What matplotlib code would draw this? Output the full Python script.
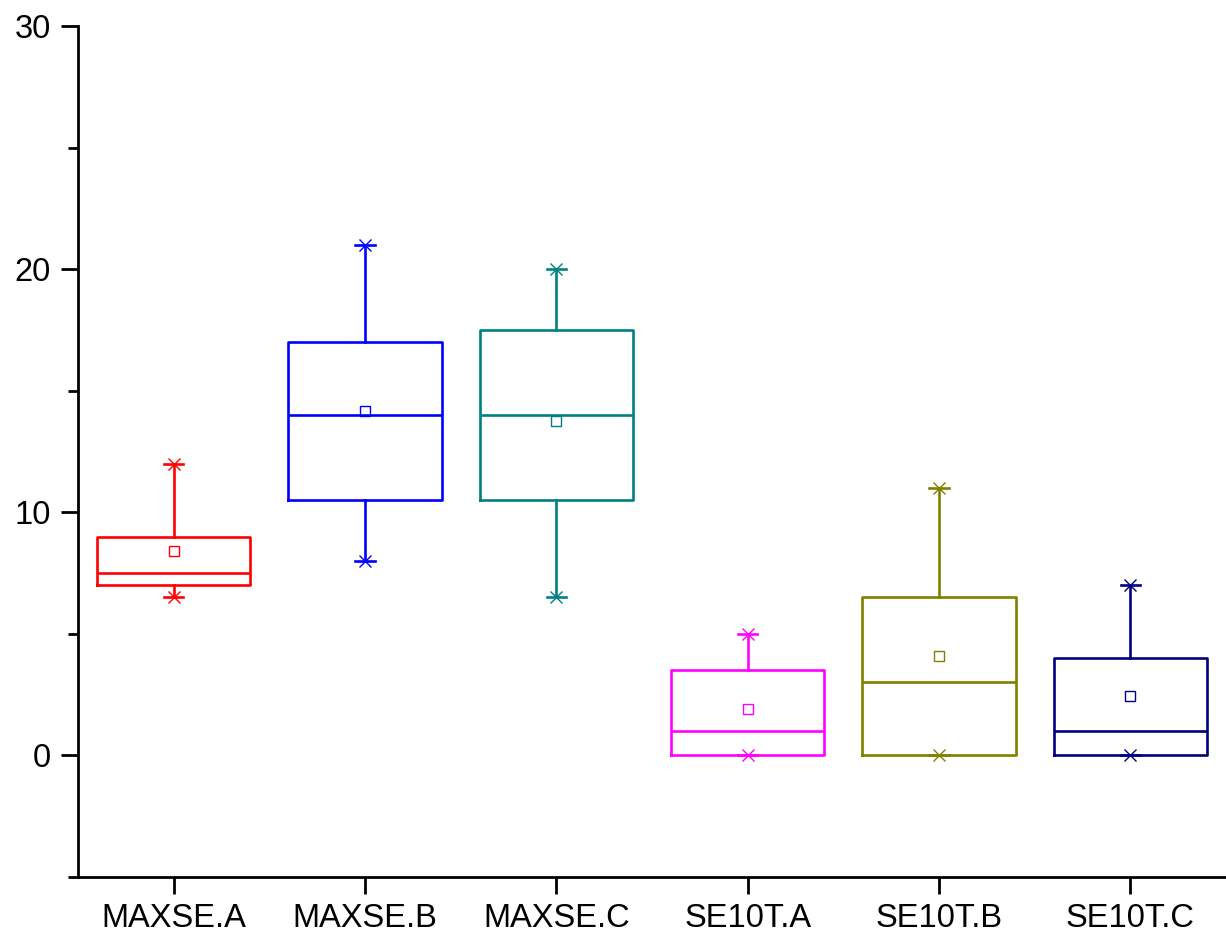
import matplotlib
matplotlib.use("Agg")
import matplotlib.pyplot as plt
from matplotlib.ticker import MultipleLocator

categories = ["MAXSE.A", "MAXSE.B", "MAXSE.C", "SE10T.A", "SE10T.B", "SE10T.C"]
whisker_low = [6.5, 8.0, 6.5, 0.0, 0.0, 0.0]
q1 = [7.0, 10.5, 10.5, 0.0, 0.0, 0.0]
median = [7.5, 14.0, 14.0, 1.0, 3.0, 1.0]
q3 = [9.0, 17.0, 17.5, 3.5, 6.5, 4.0]
whisker_high = [12.0, 21.0, 20.0, 5.0, 11.0, 7.0]
means = [8.42, 14.15, 13.75, 1.93, 4.1, 2.43]
colors = ["#FF0000", "#0000FF", "#008080", "#FF00FF", "#808000", "#000080"]

plt.rcParams["font.family"] = ["Liberation Sans", "DejaVu Sans"]

fig = plt.figure(figsize=(12.26, 9.35), dpi=100)
ax = fig.add_axes([78 / 1226, 1 - 877 / 935, 1 - 78 / 1226, (877 - 26) / 935])

positions = list(range(1, len(categories) + 1))
lw = 1.9
for i, pos in enumerate(positions):
    st = [dict(med=median[i], q1=q1[i], q3=q3[i], whislo=whisker_low[i],
               whishi=whisker_high[i], mean=means[i], fliers=[])]
    c = colors[i]
    ax.bxp(st, positions=[pos], widths=0.8, capwidths=0.1, showmeans=True,
           boxprops=dict(color=c, linewidth=lw),
           medianprops=dict(color=c, linewidth=lw),
           whiskerprops=dict(color=c, linewidth=lw),
           capprops=dict(color=c, linewidth=lw),
           meanprops=dict(marker="s", markerfacecolor="none", markeredgecolor=c,
                          markersize=7, markeredgewidth=1.0),
           manage_ticks=False)
    ax.plot([pos, pos], [whisker_low[i], whisker_high[i]], linestyle="none",
            marker="x", color=c, markersize=9, markeredgewidth=1.0, zorder=5)

ax.set_xlim(0.5, 6.5)
ax.set_ylim(-5, 30)
ax.set_xticks(positions)
ax.set_xticklabels(categories)
ax.yaxis.set_major_locator(MultipleLocator(10))
ax.yaxis.set_minor_locator(MultipleLocator(5))
ax.spines["top"].set_visible(False)
ax.spines["right"].set_visible(False)
for s in ("left", "bottom"):
    ax.spines[s].set_linewidth(2.0)
ax.tick_params(axis="both", which="major", direction="out", length=12.5, width=2.0,
               labelsize=23.5, colors="black")
ax.tick_params(axis="y", which="major", pad=7)
ax.tick_params(axis="x", which="major", pad=6)
ax.tick_params(axis="y", which="minor", direction="out", length=7.5, width=2.0)

fig.savefig("out.png", dpi=100)
